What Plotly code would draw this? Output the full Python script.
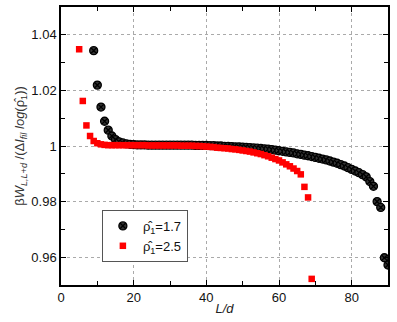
import plotly.graph_objects as go

# rho_hat = 1.7 series (black circles)
L_a = list(range(9, 91))
W_a = [1.0343, 1.0219, 1.0140, 1.0089, 1.0057, 1.0036, 1.0023, 1.0015, 1.0011, 1.0008,
       1.0006, 1.0005, 1.0004, 1.0004, 1.0004, 1.0003, 1.0003, 1.0003, 1.0003, 1.0003,
       1.0003, 1.0003, 1.0003, 1.0003, 1.0003, 1.0003, 1.0003, 1.0003, 1.0002, 1.0002,
       1.0002, 1.0002, 1.0001, 1.0001, 1.0000, 1.0000, 0.9999, 0.9999, 0.9998, 0.9997,
       0.9997, 0.9996, 0.9995, 0.9994, 0.9993, 0.9992, 0.9991, 0.9990, 0.9989, 0.9987,
       0.9985, 0.9983, 0.9981, 0.9979, 0.9977, 0.9975, 0.9972, 0.9970, 0.9967, 0.9965,
       0.9962, 0.9959, 0.9956, 0.9953, 0.9950, 0.9946, 0.9942, 0.9938, 0.9933, 0.9928,
       0.9922, 0.9916, 0.9910, 0.9904, 0.9897, 0.9889, 0.9872, 0.9855, 0.9800, 0.9779,
       0.9598, 0.9572]

# rho_hat = 2.5 series (red squares)
L_b = list(range(5, 71))
W_b = [1.0348, 1.0162, 1.0074, 1.0036, 1.0018, 1.0010, 1.0006, 1.0004, 1.0003, 1.0003,
       1.0003, 1.0003, 1.0003, 1.0003, 1.0003, 1.0003, 1.0003, 1.0003, 1.0003, 1.0002,
       1.0002, 1.0002, 1.0002, 1.0002, 1.0002, 1.0002, 1.0002, 1.0002, 1.0001, 1.0001,
       1.0001, 1.0001, 1.0000, 1.0000, 0.9999, 0.9998, 0.9997, 0.9996, 0.9994, 0.9993,
       0.9992, 0.9991, 0.9989, 0.9988, 0.9986, 0.9984, 0.9982, 0.9980, 0.9977, 0.9974,
       0.9971, 0.9967, 0.9963, 0.9958, 0.9953, 0.9948, 0.9941, 0.9934, 0.9927, 0.9919,
       0.9910, 0.9898, 0.9853, 0.9815, 0.9522]

x_ticks = [0, 20, 40, 60, 80]
y_ticks = [0.96, 0.98, 1.0, 1.02, 1.04]
y_labels = ['0.96', '0.98', '1', '1.02', '1.04']

fig = go.Figure()
fig.add_trace(go.Scatter(x=L_a, y=W_a, mode='markers', name='ρ̂<sub>1</sub>=1.7',
                         marker=dict(symbol='circle-x', size=8, color='#333',
                                     line=dict(color='black', width=1.3))))
fig.add_trace(go.Scatter(x=L_b, y=W_b, mode='markers', name='ρ̂<sub>1</sub>=2.5',
                         marker=dict(symbol='square', size=6.5, color='#ff0000',
                                     line=dict(width=0))))

axis_common = dict(showline=True, linecolor='black', linewidth=1.5, mirror='ticks',
                   ticks='inside', ticklen=5, tickcolor='black', automargin=False,
                   showgrid=True, gridcolor='#aaa', griddash='dot', gridwidth=1,
                   zeroline=False,
                   tickfont=dict(family='Liberation Sans', size=13, color='#111'))

fig.update_xaxes(range=[0, 90], tickvals=x_ticks,
                 minor=dict(ticks='inside', dtick=10, ticklen=4, tickcolor='black', showgrid=False),
                 title=dict(text='<i>L/d</i>', standoff=0,
                            font=dict(family='Liberation Sans', size=13, color='#222')),
                 **axis_common)
fig.update_yaxes(range=[0.95, 1.05], tickvals=y_ticks, ticktext=y_labels,
                 minor=dict(ticks='inside', dtick=0.01, tick0=0.95, ticklen=4, tickcolor='black', showgrid=False),
                 title=dict(text='β<i>W</i><sub><i>L,L+d</i></sub> /(Δ<i>I</i><sub><i>fil</i></sub> <i>log</i>(ρ̂<sub>1</sub>))',
                            standoff=4,
                            font=dict(family='Liberation Sans', size=13, color='#333')),
                 **axis_common)

fig.update_layout(width=397, height=322, margin=dict(l=61, r=9, t=7, b=37),
                  plot_bgcolor='white', paper_bgcolor='white',
                  font=dict(family='Liberation Sans', size=13, color='#111'),
                  legend=dict(x=0.125, y=0.27, xanchor='left', yanchor='top',
                              bgcolor='white', bordercolor='#555', borderwidth=1,
                              font=dict(family='Liberation Sans', size=13, color='#111'),
                              itemwidth=30, tracegroupgap=0))

# the page body has a default 8px margin; drop it so the figure sits at the corner
fig.write_html("out.html", config={'displayModeBar': False},
               post_script="document.body.style.margin='0';")
